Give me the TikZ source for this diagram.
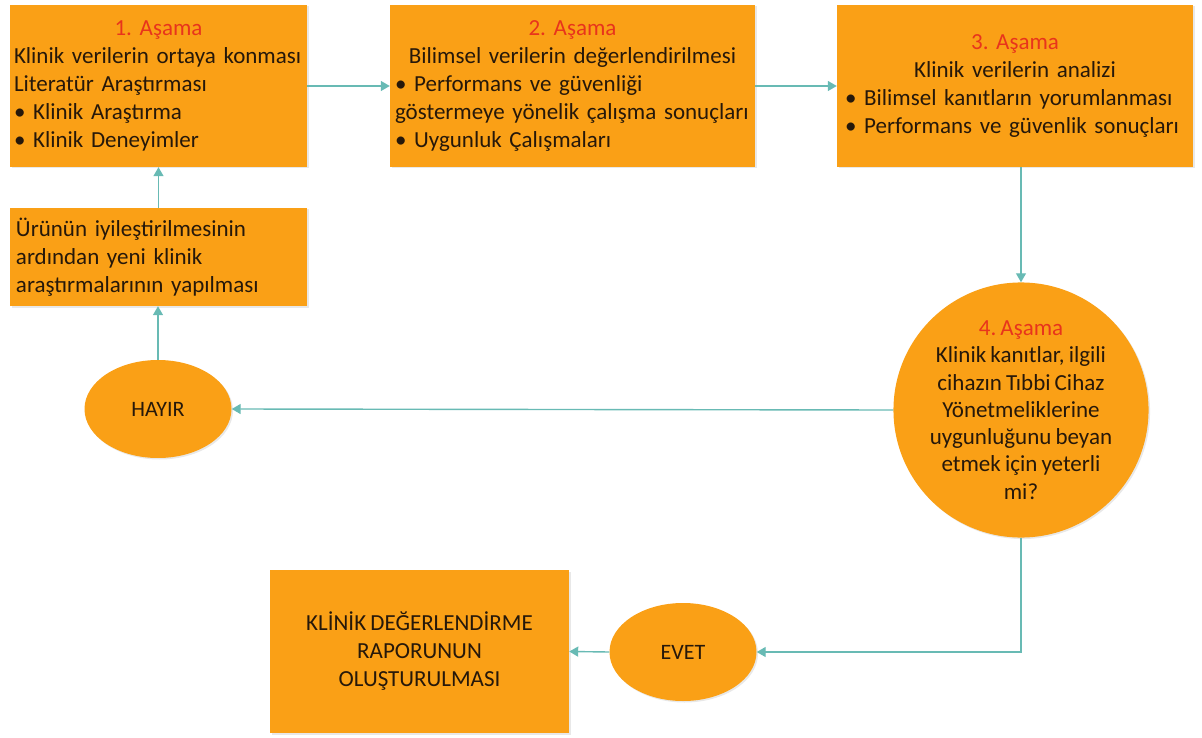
\documentclass[tikz,border=0pt]{standalone}
\usepackage{fontspec}
\setmainfont{Carlito}[WordSpace=0.8]
\usetikzlibrary{arrows.meta,shapes.geometric,shadows}
\frenchspacing

\definecolor{stagefill}{RGB}{250,160,22}
\definecolor{stagetitle}{RGB}{232,52,28}
\definecolor{stagetext}{RGB}{38,24,10}
\definecolor{flowline}{RGB}{104,186,180}

\newcommand{\ctrline}[1]{\makebox[\hsize][c]{#1}}
\newcommand{\stg}[1]{\textcolor{stagetitle}{#1}}

\tikzset{
  stagebox/.style={rectangle, fill=stagefill, draw=none, text=stagetext,
    align=left, font=\fontsize{23}{28}\selectfont,
    drop shadow={shadow xshift=1.5pt, shadow yshift=-1.5pt, opacity=.18}},
  roundstage/.style={circle, fill=stagefill, draw=none, text=stagetext,
    align=center, inner sep=0pt, font=\fontsize{23}{27.3}\selectfont,
    drop shadow={shadow xshift=1.5pt, shadow yshift=-1.5pt, opacity=.18}},
  answer/.style={ellipse, fill=stagefill, draw=none, text=stagetext,
    inner sep=0pt, font=\fontsize{22}{27}\selectfont,
    minimum width=147pt, minimum height=98pt,
    drop shadow={shadow xshift=1.5pt, shadow yshift=-1.5pt, opacity=.18}},
  flow/.style={draw=flowline, line width=1.4pt,
    -{Triangle[length=9pt,width=10pt]}},
}

\begin{document}
\begin{tikzpicture}[x=1pt,y=-1pt]
\useasboundingbox (0,0) rectangle (1202,738);

% stage boxes
\node[stagebox, minimum width=297pt, minimum height=162pt, text width=289pt, inner xsep=4pt]
  (s1) at (158.5,86) {\ctrline{\stg{1. Aşama}}\\
  Klinik verilerin ortaya konması\\
  Literatür Araştırması\\
  • Klinik Araştırma\\
  • Klinik Deneyimler};

\node[stagebox, minimum width=365pt, minimum height=162pt, text width=355pt, inner xsep=5pt]
  (s2) at (572.5,86) {\ctrline{\stg{2. Aşama}}\\
  \ctrline{Bilimsel verilerin değerlendirilmesi}\\
  • Performans ve güvenliği\\
  göstermeye yönelik çalışma sonuçları\\
  • Uygunluk Çalışmaları};

\node[stagebox, minimum width=356pt, minimum height=162pt, text width=340pt, inner xsep=8pt]
  (s3) at (1015,86) {\ctrline{\stg{3. Aşama}}\\
  \ctrline{Klinik verilerin analizi}\\
  • Bilimsel kanıtların yorumlanması\\
  • Performans ve güvenlik sonuçları};

\node[stagebox, minimum width=297pt, minimum height=98pt, text width=285pt, inner xsep=6pt]
  (redo) at (158.5,257) {Ürünün iyileştirilmesinin\\
  ardından yeni klinik\\
  araştırmalarının yapılması};

\node[roundstage, minimum size=236pt] (s4) at (1021,410)
  {\stg{4. Aşama}\\
  Klinik kanıtlar, ilgili\\
  cihazın Tıbbi Cihaz\\
  Yönetmeliklerine\\
  uygunluğunu beyan\\
  etmek için yeterli\\
  mi?};

\node[answer] (no) at (158,409) {HAYIR};
\node[answer] (yes) at (683,652) {EVET};

\node[stagebox, minimum width=299pt, minimum height=163pt, align=center]
  (report) at (419.5,651.5) {KLİNİK DEĞERLENDİRME\\
  RAPORUNUN\\
  OLUŞTURULMASI};

% connectors
\coordinate (bend) at (s4.south |- yes.east);
\draw[flow] (s1.east) -- (s2.west);
\draw[flow] (s2.east) -- (s3.west);
\draw[flow] (s3.south -| s4.north) -- (s4.north);
\draw[flow] (s4.west) -- (no.east);
\draw[flow] (no.north) -- (redo.south -| no.north);
\draw[flow] (redo.north) -- (s1.south);
\draw[flow] (s4.south) -- (bend) -- (yes.east);
\draw[flow] (yes.west) -- (report.east);
\end{tikzpicture}
\end{document}
